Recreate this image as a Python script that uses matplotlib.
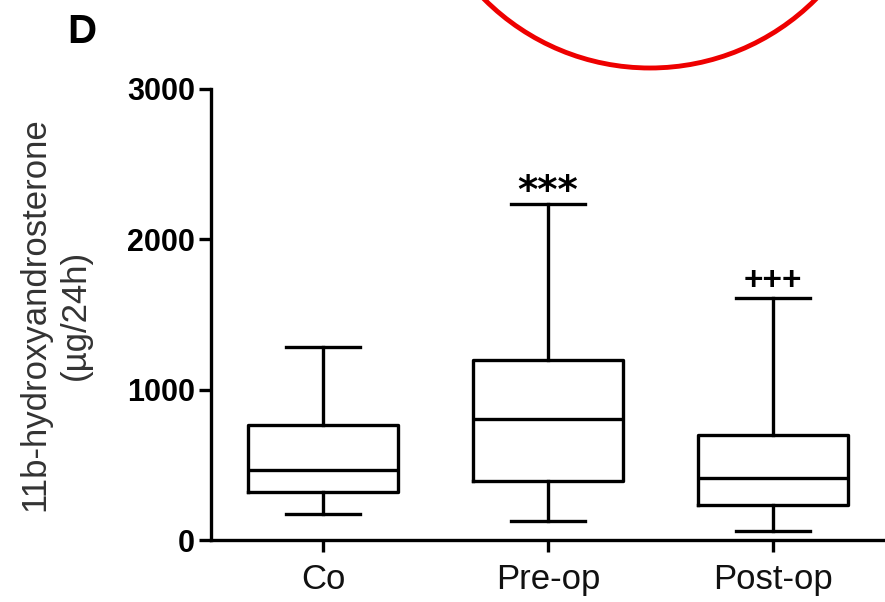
import matplotlib
matplotlib.use("Agg")
import matplotlib.pyplot as plt
from matplotlib.patches import Ellipse

# ---- data ----
groups = ["Co", "Pre-op", "Post-op"]
whisker_low = [173, 128, 62]
q1 = [321, 395, 233]
median = [466, 803, 410]
q3 = [765, 1197, 699]
whisker_high = [1286, 2235, 1608]
annotations = ["", "***", "+++"]
y_ticks = [0, 1000, 2000, 3000]
y_label = "11b-hydroxyandrosterone\n(µg/24h)"
panel_label = "D"

plt.rcParams["font.family"] = ["Liberation Sans", "DejaVu Sans"]

fig = plt.figure(figsize=(8.85, 6.02), dpi=100)
ax = fig.add_axes([211 / 885, 1 - 540 / 602, 674 / 885, 451 / 602])

stats = []
for g, lo, a, m, b, hi in zip(groups, whisker_low, q1, median, q3, whisker_high):
    stats.append(dict(label=g, whislo=lo, q1=a, med=m, q3=b, whishi=hi, fliers=[]))

lw = 2.4
positions = list(range(1, len(groups) + 1))
ax.bxp(stats, positions=positions, widths=0.668, capwidths=0.33,
       showfliers=False, patch_artist=False,
       boxprops=dict(color="black", linewidth=lw),
       medianprops=dict(color="black", linewidth=lw),
       whiskerprops=dict(color="black", linewidth=lw),
       capprops=dict(color="black", linewidth=lw))

ax.set_xlim(0.5, 3.5)
ax.set_ylim(0, 3000)
ax.set_yticks(y_ticks)
ax.set_yticklabels([str(t) for t in y_ticks], fontsize=22, fontweight="bold")
ax.set_xticks(positions)
ax.set_xticklabels(groups, fontsize=25, color="#111111")
ax.tick_params(axis="both", direction="out", length=8.5, width=lw, color="black")
ax.tick_params(axis="y", pad=3)
ax.tick_params(axis="x", pad=8)

for side in ["top", "right"]:
    ax.spines[side].set_visible(False)
for side in ["left", "bottom"]:
    ax.spines[side].set_linewidth(lw)
    ax.spines[side].set_capstyle("projecting")

ax.set_ylabel(y_label, fontsize=25, color="#333333", linespacing=1.3)
ax.yaxis.set_label_coords(-0.177, 0.5)

for pos, hi, txt in zip(positions, whisker_high, annotations):
    if not txt:
        continue
    if txt == "***":
        ax.annotate(txt, xy=(pos, hi), xytext=(0, 1), textcoords="offset points",
                    ha="center", va="baseline", fontsize=28, fontweight="bold",
                    family="DejaVu Sans")
    else:
        ax.annotate(txt, xy=(pos, hi), xytext=(0, 6), textcoords="offset points",
                    ha="center", va="baseline", fontsize=24, fontweight="bold")

fig.text(67 / 885, 1 - 43 / 602, panel_label, fontsize=29, fontweight="bold",
         ha="left", va="baseline")

# red highlight circle partly outside the top of the figure
circ = Ellipse((650 / 885, 1 + 166 / 602), 468 / 885, 468 / 602,
               transform=fig.transFigure, fill=False, edgecolor="#ee0000",
               linewidth=3.5)
fig.patches.append(circ)

fig.savefig("out.png", dpi=100)
